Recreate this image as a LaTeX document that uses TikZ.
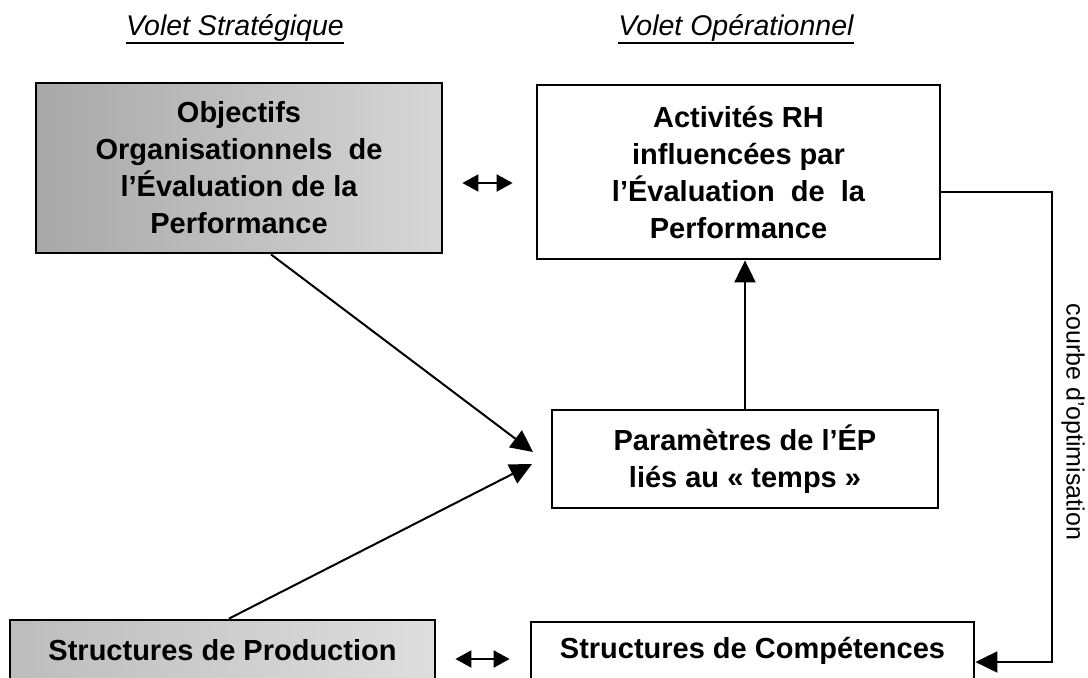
\documentclass[tikz,border=0pt]{standalone}
\usepackage{fontspec}
\setmainfont{Liberation Sans}
\usetikzlibrary{arrows.meta,calc}
\begin{document}
\begin{tikzpicture}[x=0.5pt,y=-0.5pt,
  box/.style={draw=black,line width=1.4pt,inner sep=0pt,align=center,font=\fontsize{14.5}{18.5}\selectfont\bfseries},
  graybox/.style={box,left color=gray!68,right color=gray!32},
  conn/.style={line width=1pt,draw=black},
  bigtip/.style={-{Triangle[length=11pt,width=10.5pt]}},
  dbl/.style={{Triangle[length=8pt,width=8.5pt]}-{Triangle[length=8pt,width=8.5pt]}},
  title/.style={inner sep=0pt,anchor=base,font=\fontsize{14.25}{17}\selectfont\itshape}]
\clip (0,0) rectangle (1088,677);
\fill[white] (0,0) rectangle (1088,677);
% titles
\node[title] (ts) at (235,35) {Volet Stratégique};
\node[title] (to) at (736,35) {Volet Opérationnel};
\draw[line width=1pt] ([yshift=-4pt]ts.base west) -- ([yshift=-4pt]ts.base east);
\draw[line width=1pt] ([yshift=-4pt]to.base west) -- ([yshift=-4pt]to.base east);
% boxes
\node[graybox,minimum width=203pt,minimum height=85pt] (obj) at (239,168)
  {Objectifs\\Organisationnels\ \ de\\l’Évaluation de la\\Performance};
\node[box,minimum width=201.5pt,minimum height=87pt] (act) at (738.5,172)
  {Activités RH\\influencées par\\l’Évaluation\ \ de\ \ la\\Performance};
\node[box,minimum width=193pt,minimum height=49pt] (par) at (745,459)
  {Paramètres de l’ÉP\\liés au «~temps~»};
\node[graybox,left color=gray!52,right color=gray!26,minimum width=212.5pt,minimum height=30pt] (prod) at (222.5,650)
  {Structures de Production};
\node[box,minimum width=221.5pt,minimum height=29pt] (comp) at (752.5,651)
  {Structures de Compétences};
% connectors
\draw[conn,dbl,shorten <=9.5pt,shorten >=11.5pt] (obj.east |- 0,183) -- (act.west |- 0,183);
\draw[conn,dbl,shorten <=9.5pt,shorten >=10pt] (prod.east |- 0,659) -- (comp.west |- 0,659);
\draw[conn,bigtip] (par.north) -- (par.north |- act.south);
\coordinate (t1) at (533,452);
\coordinate (t2) at (532,464);
\draw[conn,bigtip] (obj.south -| 271,0) -- (t1);
\draw[conn,bigtip] (prod.north -| 229,0) -- (t2);
\coordinate (c1) at (1052,192);
\coordinate (c2) at (1052,662);
\draw[conn,bigtip] (act.east |- c1) -- (c1) -- (c2) -- (comp.east |- c2);
\node[rotate=-90,font=\fontsize{12.5}{15}\selectfont,inner sep=0pt] (lbl) at (1073,422) {courbe d’optimisation};
\end{tikzpicture}
\end{document}
